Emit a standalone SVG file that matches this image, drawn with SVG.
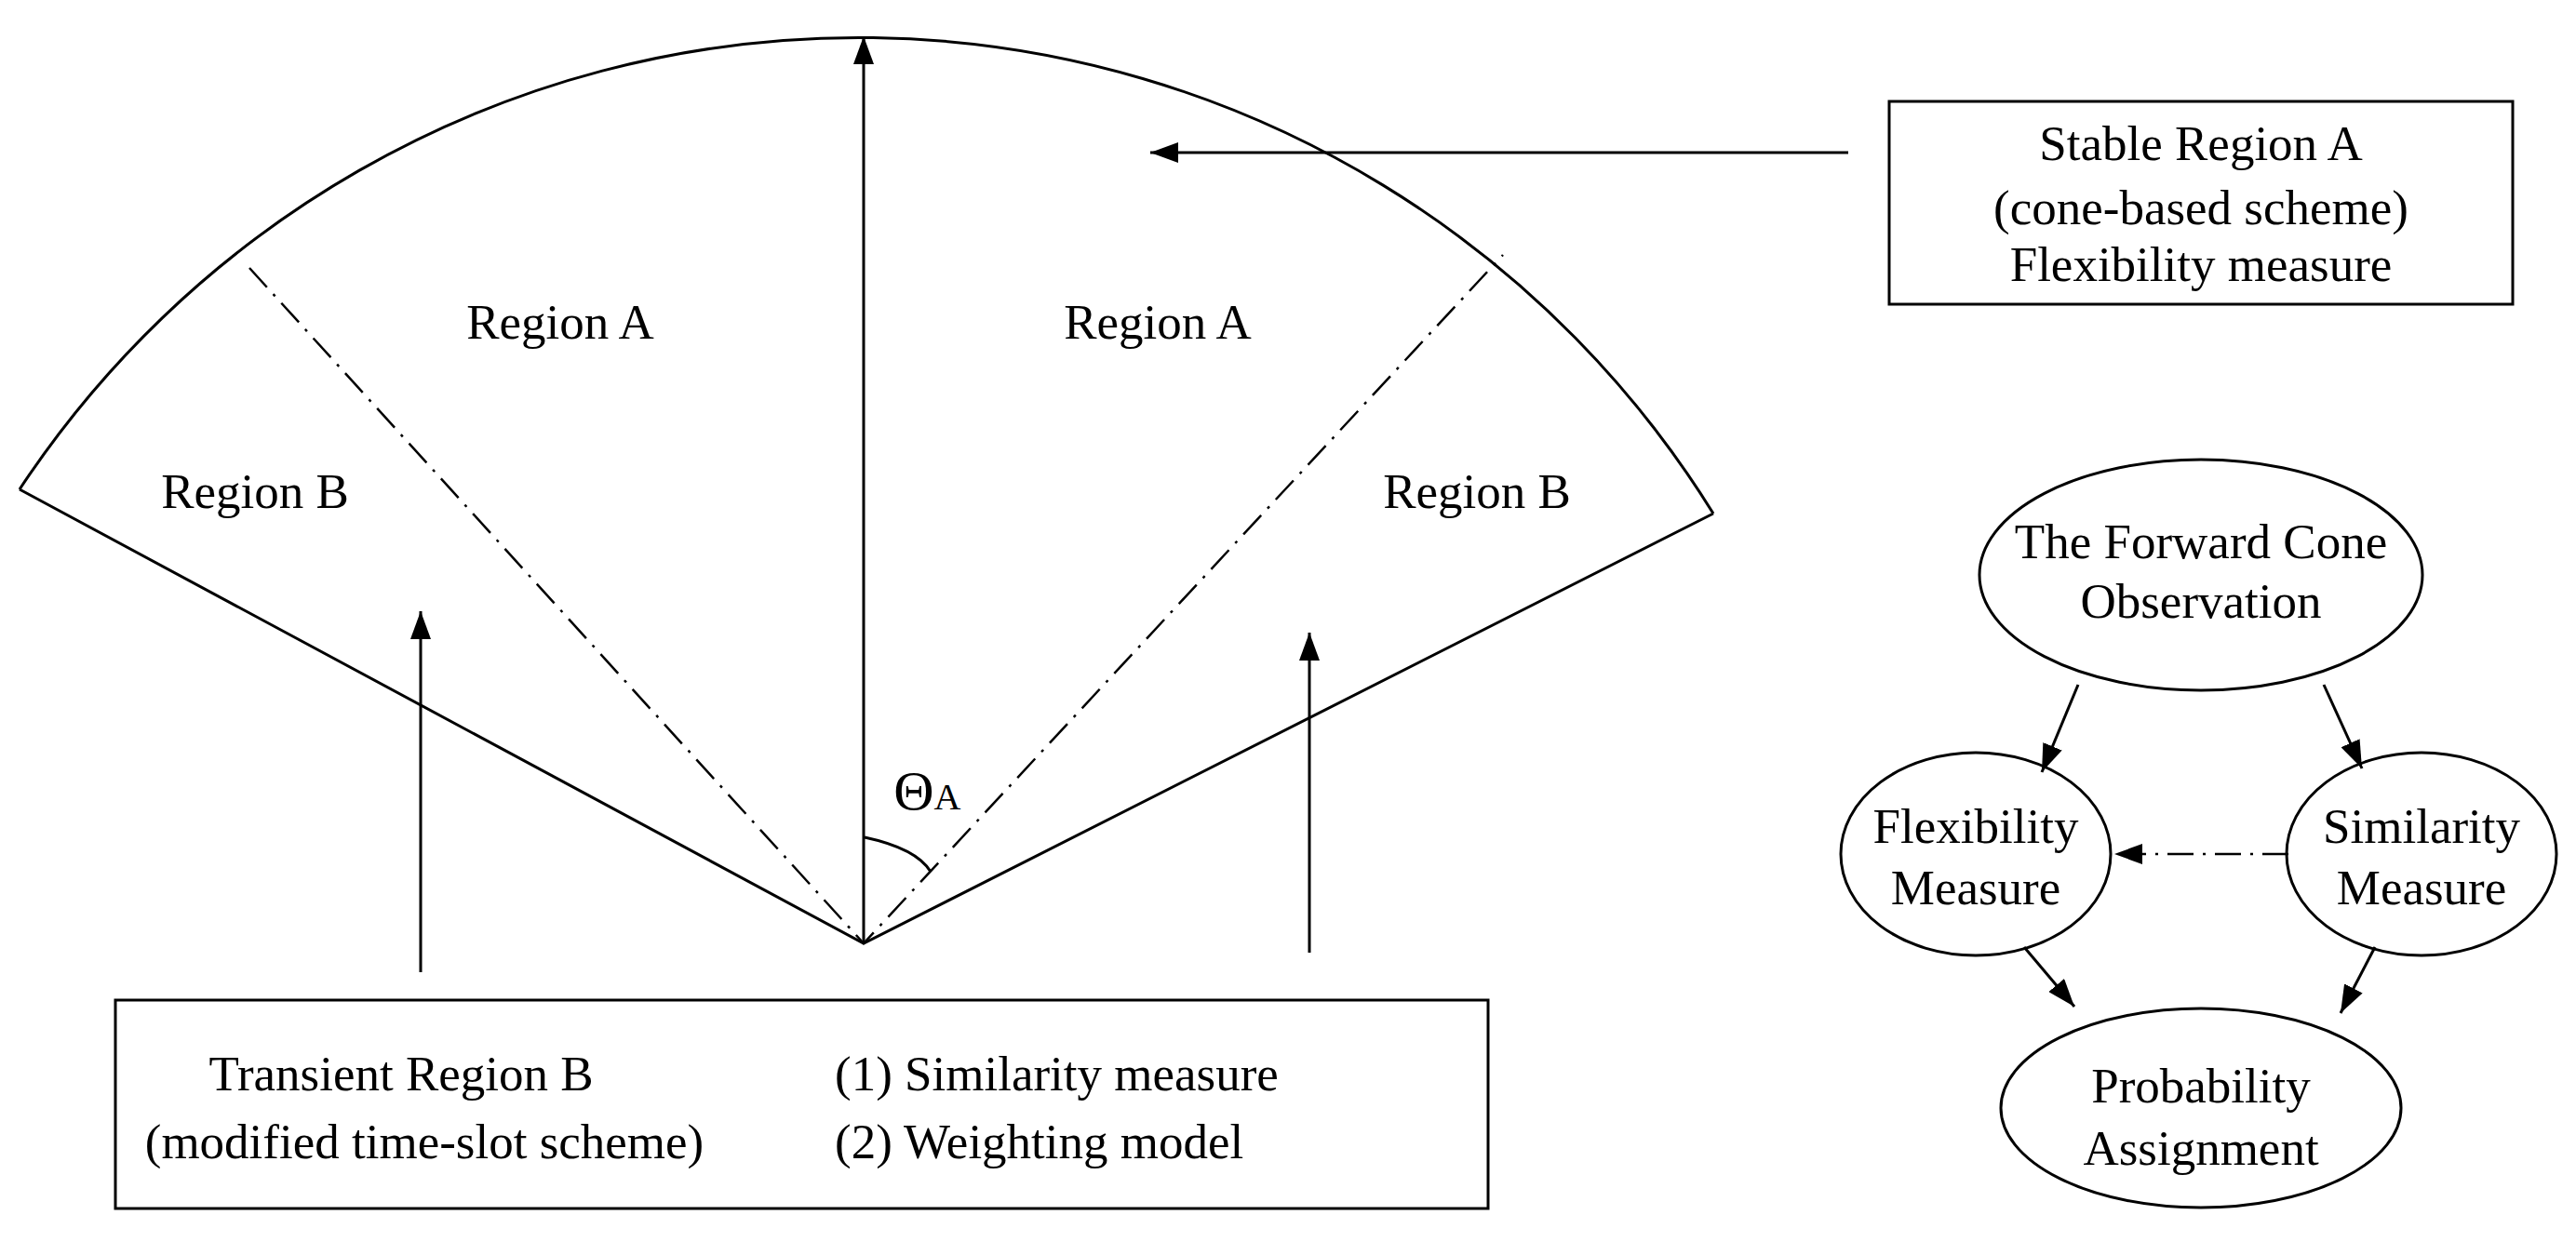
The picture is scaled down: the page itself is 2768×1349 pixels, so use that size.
<svg xmlns="http://www.w3.org/2000/svg" width="2768" height="1349" viewBox="0 0 2768 1349">
<style>
.l{stroke:#000;stroke-width:3;fill:none}
.d{stroke:#000;stroke-width:2.5;fill:none;stroke-dasharray:28 10 3 10}
text{font-family:"Liberation Serif",serif;font-size:53px;fill:#000;text-anchor:middle}
</style>
<defs>
<marker id="b" viewBox="0 0 10 10" refX="10" refY="5" markerWidth="30" markerHeight="22" markerUnits="userSpaceOnUse" orient="auto" preserveAspectRatio="none"><path d="M0,0 L10,5 L0,10 z" fill="#000"/></marker></defs>
<g id="sector">
<path class="l" d="M21,526 A1080,1080 0 0 1 1841,552"/>
<path class="l" d="M21,526 L928,1014 L1841,552"/>
<path class="d" d="M268,288 L928,1014 L1615,274"/>
<path class="l" d="M929,900 Q985,912 1000,937"/>
<text x="602" y="364">Region A</text>
<text x="1244" y="364">Region A</text>
<text x="274" y="546">Region B</text>
<text x="1587" y="546">Region B</text>
<text x="982" y="870" style="font-size:60px">Θ</text>
<text x="1018" y="870" style="font-size:40px">A</text>
</g>
<g id="stable"><rect class="l" x="2030" y="109" width="670" height="218"/>
<text x="2365" y="172">Stable Region A</text><text x="2365" y="241">(cone-based scheme)</text><text x="2365" y="302">Flexibility measure</text></g>
<g id="transient"><rect class="l" x="124" y="1075" width="1475" height="224"/>
<text x="431" y="1172">Transient Region B</text><text x="456" y="1245">(modified time-slot scheme)</text>
<text x="897" y="1172" style="text-anchor:start">(1) Similarity measure</text><text x="897" y="1245" style="text-anchor:start">(2) Weighting model</text></g>
<g id="forward"><ellipse class="l" cx="2365" cy="618" rx="238" ry="124"/><text x="2365" y="600">The Forward Cone</text><text x="2365" y="664">Observation</text></g>
<g id="flex"><ellipse class="l" cx="2123" cy="918" rx="145" ry="109"/><text x="2123" y="906">Flexibility</text><text x="2123" y="972">Measure</text></g>
<g id="sim"><ellipse class="l" cx="2602" cy="918" rx="145" ry="109"/><text x="2602" y="906">Similarity</text><text x="2602" y="972">Measure</text></g>
<g id="prob"><ellipse class="l" cx="2365" cy="1191" rx="215" ry="107"/><text x="2365" y="1185">Probability</text><text x="2365" y="1252">Assignment</text></g>
<g id="connectors">
<path class="l" d="M928,1014 L928,39" marker-end="url(#b)"/>
<path class="l" d="M1986,164 L1236,164" marker-end="url(#b)"/>
<path class="l" d="M452,1045 L452,657" marker-end="url(#b)"/>
<path class="l" d="M1407,1024 L1407,680" marker-end="url(#b)"/>
<path class="l" d="M2233,736 L2194,830" marker-end="url(#b)"/>
<path class="l" d="M2497,736 L2538,826" marker-end="url(#b)"/>
<path class="d" d="M2459,918 L2272,918" marker-end="url(#b)"/>
<path class="l" d="M2175,1018 L2229,1082" marker-end="url(#b)"/>
<path class="l" d="M2552,1018 L2515,1089" marker-end="url(#b)"/>
</g>
</svg>
